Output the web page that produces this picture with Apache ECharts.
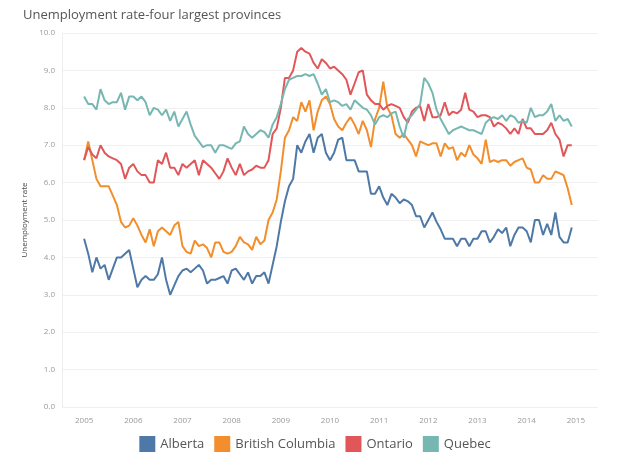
<!DOCTYPE html>
<html>
<head>
<meta charset="utf-8">
<script src="https://cdn.jsdelivr.net/npm/echarts@6/dist/echarts.min.js"></script>
<style>
html,body{margin:0;padding:0;background:#fff;}
#chart{width:630px;height:465px;}
</style>
</head>
<body>
<div id="chart"></div>
<script>
const startYear = 2005;
const yearTicks = [2005, 2006, 2007, 2008, 2009, 2010, 2011, 2012, 2013, 2014, 2015];
const seriesNames = ['Alberta', 'British Columbia', 'Ontario', 'Quebec'];

const alberta = [
  4.5, 4.1, 3.6, 4.0, 3.7, 3.8, 3.4, 3.7, 4.0, 4.0, 4.1, 4.2,
  3.7, 3.2, 3.4, 3.5, 3.4, 3.4, 3.55, 4.0, 3.4, 3.0, 3.25, 3.5,
  3.65, 3.7, 3.6, 3.7, 3.8, 3.65, 3.3, 3.4, 3.4, 3.45, 3.5, 3.3,
  3.65, 3.7, 3.55, 3.4, 3.6, 3.3, 3.5, 3.5, 3.6, 3.3, 3.8, 4.3,
  4.95, 5.5, 5.9, 6.1, 7.0, 6.8, 7.1, 7.3, 6.8, 7.2, 7.3, 6.8,
  6.6, 6.8, 7.15, 7.2, 6.6, 6.6, 6.6, 6.3, 6.3, 6.3, 5.7, 5.7,
  5.9, 5.6, 5.4, 5.7, 5.6, 5.45, 5.55, 5.5, 5.4, 5.1, 5.1, 4.8,
  5.0, 5.2, 4.95, 4.75, 4.5, 4.5, 4.5, 4.3, 4.5, 4.5, 4.3, 4.5,
  4.5, 4.7, 4.7, 4.4, 4.55, 4.75, 4.65, 4.8, 4.3, 4.6, 4.8, 4.8,
  4.7, 4.4, 5.0, 5.0, 4.6, 4.9, 4.6, 5.2, 4.55, 4.4, 4.4, 4.8
];
const britishColumbia = [
  6.6, 7.1, 6.6, 6.1, 5.9, 5.9, 5.9, 5.65, 5.4, 4.95, 4.8, 4.85,
  5.05, 4.85, 4.6, 4.4, 4.75, 4.3, 4.7, 4.8, 4.7, 4.6, 4.85, 4.95,
  4.3, 4.15, 4.1, 4.45, 4.3, 4.35, 4.25, 4.0, 4.4, 4.4, 4.15, 4.1,
  4.15, 4.3, 4.55, 4.4, 4.35, 4.2, 4.55, 4.35, 4.45, 5.0, 5.2, 5.55,
  6.3, 7.2, 7.4, 7.75, 7.65, 8.15, 7.9, 8.2, 7.4, 7.9, 8.2, 8.3,
  8.1, 7.7, 7.5, 7.4, 7.6, 7.75, 7.55, 7.3, 7.65, 7.4, 6.95, 7.7,
  8.0, 8.7, 8.0, 7.8, 7.3, 7.2, 7.3, 7.15, 7.0, 6.7, 7.1, 7.05,
  7.0, 7.05, 7.05, 6.7, 7.05, 6.9, 6.95, 6.6, 6.8, 6.7, 7.0, 6.75,
  6.65, 6.5, 7.15, 6.55, 6.6, 6.55, 6.6, 6.6, 6.45, 6.55, 6.6, 6.65,
  6.4, 6.35, 6.0, 6.0, 6.2, 6.1, 6.1, 6.3, 6.25, 6.2, 5.85, 5.4
];
const ontario = [
  6.6, 6.95, 6.75, 6.65, 7.0, 6.8, 6.7, 6.65, 6.6, 6.5, 6.1, 6.4,
  6.5, 6.3, 6.2, 6.2, 6.0, 6.0, 6.6, 6.5, 6.8, 6.4, 6.4, 6.2,
  6.5, 6.4, 6.5, 6.6, 6.2, 6.6, 6.5, 6.4, 6.25, 6.1, 6.3, 6.65,
  6.4, 6.2, 6.5, 6.2, 6.3, 6.35, 6.45, 6.4, 6.4, 6.6, 7.3, 7.45,
  8.0, 8.8, 8.8, 9.0, 9.5, 9.6, 9.5, 9.45, 9.2, 9.05, 9.3, 9.2,
  9.05, 9.1, 9.0, 8.9, 8.75, 8.35, 8.65, 8.95, 9.0, 8.35, 8.2, 8.1,
  8.1, 7.95, 8.05, 8.1, 8.05, 8.0, 7.75, 7.6, 7.9, 8.0, 8.05, 7.65,
  8.1, 7.75, 7.75, 7.8, 8.15, 7.8, 7.9, 7.85, 7.95, 8.4, 7.95, 7.9,
  7.75, 7.8, 7.8, 7.75, 7.5, 7.6, 7.55, 7.45, 7.3, 7.45, 7.3, 7.7,
  7.45, 7.45, 7.3, 7.3, 7.3, 7.4, 7.6, 7.3, 7.15, 6.7, 7.0, 7.0
];
const quebec = [
  8.3, 8.1, 8.1, 7.95, 8.5, 8.2, 8.1, 8.15, 8.15, 8.4, 7.95, 8.3,
  8.3, 8.2, 8.3, 8.15, 7.8, 8.0, 7.95, 7.8, 7.95, 7.65, 7.9, 7.5,
  7.7, 7.9, 7.55, 7.25, 7.1, 6.95, 7.0, 7.0, 6.8, 7.0, 7.0, 6.95,
  6.9, 7.05, 7.1, 7.5, 7.3, 7.2, 7.3, 7.4, 7.35, 7.2, 7.55, 7.75,
  8.1, 8.5, 8.75, 8.8, 8.85, 8.85, 8.9, 8.85, 8.9, 8.65, 8.35, 8.5,
  8.15, 8.2, 8.15, 8.05, 8.1, 7.95, 8.2, 8.1, 8.0, 7.95, 7.8, 7.55,
  7.75, 7.8, 7.75, 7.85, 7.9, 7.5, 7.2, 7.7, 7.8, 7.95, 8.1, 8.8,
  8.65, 8.4, 7.95, 7.7, 7.5, 7.3, 7.4, 7.45, 7.5, 7.45, 7.4, 7.4,
  7.35, 7.3, 7.6, 7.7, 7.75, 7.7, 7.8, 7.65, 7.8, 7.75, 7.6, 7.65,
  7.6, 8.0, 7.75, 7.8, 7.8, 7.9, 8.1, 7.65, 7.8, 7.65, 7.7, 7.5
];

const colors = ['#4e79a7', '#f28e2b', '#e15759', '#76b7b2'];
const allSeries = [alberta, britishColumbia, ontario, quebec];

function toPoints(arr) {
  return arr.map((v, i) => [startYear + i / 12, v]);
}

const chart = echarts.init(document.getElementById('chart'), null, {renderer: 'canvas'});
const fontFam = '"Open Sans", "Noto Sans", sans-serif';
chart.setOption({
  animation: false,
  backgroundColor: '#ffffff',
  title: {
    text: 'Unemployment rate-four largest provinces',
    left: 18, top: 4,
    textStyle: {fontFamily: fontFam, fontSize: 13, fontWeight: 'normal', color: '#555'}
  },
  legend: {
    data: seriesNames,
    bottom: 8, left: 'center',
    icon: 'rect', itemWidth: 16, itemHeight: 16, itemGap: 10,
    textStyle: {fontFamily: fontFam, fontSize: 13, color: '#555'}
  },
  grid: {left: 62, right: 32, top: 33, bottom: 58, containLabel: false},
  xAxis: {
    type: 'value',
    min: 2004.55, max: 2015.45,
    splitLine: {show: false},
    axisLine: {show: false},
    axisTick: {show: false},
    axisLabel: {
      customValues: yearTicks,
      formatter: v => String(Math.round(v)),
      fontFamily: fontFam, fontSize: 8, color: '#999', margin: 10
    }
  },
  yAxis: {
    type: 'value',
    min: 0, max: 10, interval: 1,
    name: 'Unemployment rate',
    nameLocation: 'middle', nameGap: 30, nameRotate: 90,
    nameTextStyle: {fontFamily: fontFam, fontSize: 8, color: '#444'},
    axisLine: {show: true, lineStyle: {color: '#eeeeee'}},
    axisTick: {show: false},
    splitLine: {lineStyle: {color: '#f0f0f0', width: 1}},
    axisLabel: {formatter: v => v.toFixed(1), fontFamily: fontFam, fontSize: 8, color: '#999', margin: 7}
  },
  series: allSeries.map((arr, k) => ({
    name: seriesNames[k],
    type: 'line',
    data: toPoints(arr),
    showSymbol: false,
    symbol: 'none',
    lineStyle: {width: 2, color: colors[k]},
    itemStyle: {color: colors[k]}
  }))
});
</script>
</body>
</html>
